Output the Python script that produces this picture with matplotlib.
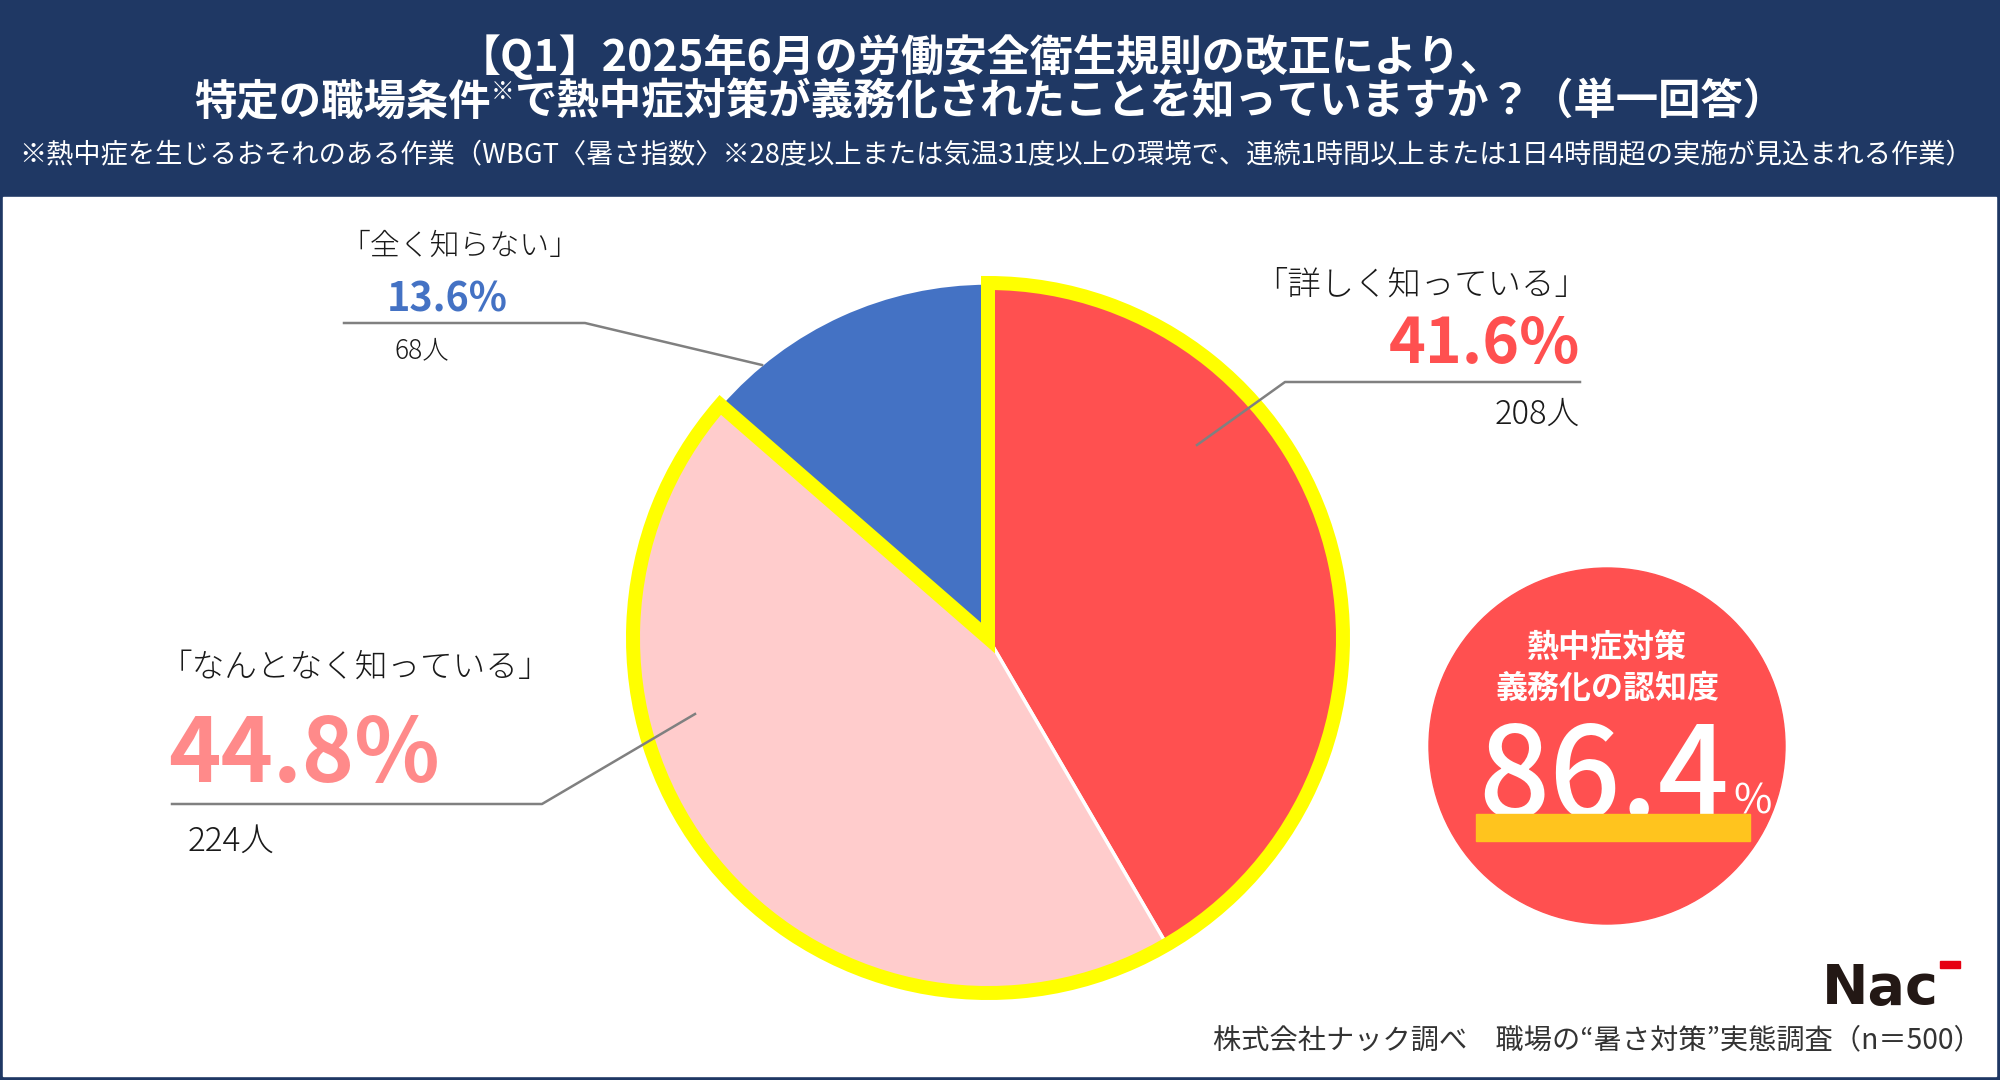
import matplotlib.pyplot as plt
from matplotlib.patches import Rectangle, Wedge, Circle

plt.rcParams['font.family'] = ['Noto Sans CJK JP', 'DejaVu Sans']

# survey answers (clockwise from 12 o'clock)
labels = ["「詳しく知っている」", "「なんとなく知っている」", "「全く知らない」"]
shares = [41.6, 44.8, 13.6]
counts = [208, 224, 68]
colors = ["#FF5050", "#FFCCCC", "#4472C4"]
pct_colors = ["#FF5050", "#FF8A8A", "#4472C4"]
aware_total = 86.4
n_total = 500

title1 = "【Q1】2025年6月の労働安全衛生規則の改正により、"
title2 = ["特定の職場条件", "※", "で熱中症対策が義務化されたことを知っていますか？（単一回答）"]
note = ("※熱中症を生じるおそれのある作業（WBGT〈暑さ指数〉※28度以上または気温31度以上の環境で、"
        "連続1時間以上または1日4時間超の実施が見込まれる作業）")
source = "株式会社ナック調べ　職場の“暑さ対策”実態調査（n＝%d）" % n_total

navy = "#1F3864"
PT = 0.72  # px -> pt at dpi 100

fig = plt.figure(figsize=(20, 10.8), dpi=100)
fig.patch.set_facecolor(navy)
ax = fig.add_axes([0, 0, 1, 1])

# white body under the navy header
ax.add_patch(Rectangle((3, 197), 1993, 879, color="white", zorder=0))

# pie
cx, cy, R = 988, 638, 355
wedges, _ = ax.pie(shares, colors=colors, startangle=-90, counterclock=True,
                   radius=R, center=(cx, cy),
                   wedgeprops=dict(edgecolor="white", linewidth=2.5))
# yellow outline around the "know" part
know = shares[0] + shares[1]
ax.add_patch(Wedge((cx, cy), R, -90, -90 + 360 * know / 100, fill=False,
                   edgecolor="#FFFF00", linewidth=14 * PT, zorder=3))

ax.set_xlim(0, 2000)
ax.set_ylim(1080, 0)
ax.set_aspect("auto")
ax.axis("off")

# titles
ax.text(981, 57, title1, color="white", fontsize=31, fontweight="bold",
        ha="center", va="center")
renderer = fig.canvas.get_renderer()
sizes = [30.5, 17, 30.5]
rise = [0, -15, 0]
parts = [ax.text(0, 114 + r, t, color="white", fontsize=s, fontweight="bold",
                 ha="left", va="baseline") for t, s, r in zip(title2, sizes, rise)]
widths = [p.get_window_extent(renderer).width for p in parts]
x = 990 - sum(widths) / 2
for p, w in zip(parts, widths):
    p.set_x(x)
    x += w
ax.text(996, 156, note, color="white", fontsize=19.6, ha="center", va="center")

# labels
gray = "#808080"
dark = "#1A1A1A"
# red
ax.plot([1580, 1285, 1197], [382, 382, 445], color=gray, lw=1.8, zorder=4)
ax.text(1588, 285, labels[0], color=dark, fontsize=24, fontweight="light",
        ha="right", va="center")
ax.text(1580, 363, "%.1f%%" % shares[0], color=pct_colors[0], fontsize=45,
        fontweight="bold", ha="right", va="baseline")
ax.text(1580, 415, "%d人" % counts[0], color=dark, fontsize=23.5, fontweight="light",
        ha="right", va="center")
# pink
ax.plot([172, 542, 695], [804, 804, 714], color=gray, lw=1.8, zorder=4)
ax.text(160, 667, labels[1], color=dark, fontsize=23.5, fontweight="light",
        ha="left", va="center")
ax.text(168, 782, "%.1f%%" % shares[1], color=pct_colors[1], fontsize=64,
        fontweight="bold", ha="left", va="baseline")
ax.text(188, 842, "%d人" % counts[1], color=dark, fontsize=24, fontweight="light",
        ha="left", va="center")
# blue
ax.plot([344, 585, 762], [323, 323, 365], color=gray, lw=1.8, zorder=4)
ax.text(340, 247, labels[2], color=dark, fontsize=21.5, fontweight="light",
        ha="left", va="center")
ax.text(387, 311, "%.1f%%" % shares[2], color=pct_colors[2], fontsize=28.5,
        fontweight="bold", ha="left", va="baseline")
ax.text(395, 350, "%d人" % counts[2], color=dark, fontsize=19, fontweight="light",
        ha="left", va="center")

# awareness badge
ax.add_patch(Circle((1607, 746), 178, color="#FF5050", zorder=2))
ax.text(1607, 648, "熱中症対策", color="white", fontsize=23, fontweight="bold",
        ha="center", va="center", zorder=3)
ax.text(1607, 689, "義務化の認知度", color="white", fontsize=23, fontweight="bold",
        ha="center", va="center", zorder=3)
ax.text(1604, 817, "%.1f" % aware_total, color="white", fontsize=90,
        fontweight="medium", ha="center", va="baseline", zorder=3)
ax.text(1733, 813, "%", color="white", fontsize=30,
        ha="left", va="baseline", zorder=3)
ax.add_patch(Rectangle((1476, 814), 274, 27, color="#FFC41E", zorder=4))

# logo + source
ax.text(1822, 1004, "Nac", color="#231815", fontsize=40, fontweight="bold",
        family="DejaVu Sans", ha="left", va="baseline")
ax.add_patch(Rectangle((1940, 961), 20, 7, color="#E60012", zorder=3))
ax.text(1982, 1040, source, color="#333333", fontsize=20.3, ha="right", va="center")

fig.savefig("out.png", dpi=100, facecolor=fig.get_facecolor())
